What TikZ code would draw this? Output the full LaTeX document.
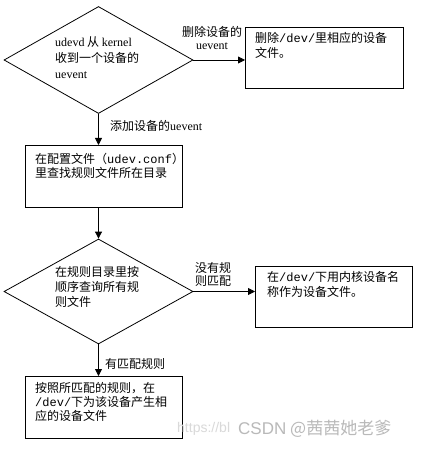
\documentclass[tikz,border=0pt]{standalone}
\usepackage{fontspec}
\setmainfont{Noto Sans CJK SC}
\newfontfamily\tms{Liberation Serif}
\setmonofont{Liberation Mono}
\newfontfamily\wmfont{Liberation Sans}
\usetikzlibrary{shapes.geometric,arrows.meta}
\begin{document}
\begin{tikzpicture}[x=1pt,y=-1pt,
  font=\fontsize{12pt}{15pt}\selectfont,
  box/.style={draw, line width=0.8pt, rectangle, anchor=north west, inner sep=0},
  dia/.style={draw, line width=0.8pt, diamond, inner sep=0},
  txt/.style={anchor=north west, inner sep=0, align=left},
  lbl/.style={inner sep=0, align=center},
  arr/.style={-{Triangle[length=7pt,width=7pt]}, line width=0.8pt}]
\useasboundingbox[fill=white] (0,0) rectangle (423,449);
% shapes
\node[dia, minimum width=189pt, minimum height=107pt] (d1) at (98.5,60) {};
\node[box, minimum width=158pt, minimum height=61pt] (b1) at (245,27) {};
\node[box, minimum width=157pt, minimum height=62pt] (b2) at (25,145) {};
\node[dia, minimum width=189pt, minimum height=105pt] (d2) at (98.5,291.5) {};
\node[box, minimum width=157pt, minimum height=61pt] (b3) at (255,266) {};
\node[box, minimum width=157pt, minimum height=62pt] (b4) at (25,376) {};
% connectors
\draw[arr] (d1.east) -- (d1.east -| b1.west);
\draw[arr] (d1.south) -- (d1.south |- b2.north);
\draw[arr] (b2.south -| d2.north) -- (d2.north);
\draw[arr] (d2.east) -- (d2.east -| b3.west);
\draw[arr] (d2.south) -- (d2.south |- b4.north);
% labels
\node[lbl, font=\fontsize{12pt}{12.5pt}\selectfont] (l1) at (212,38) {删除设备的\\{\tms uevent}};
\node[lbl, anchor=west] (l2) at (110,126) {添加设备的{\tms uevent}};
\node[lbl, align=left, font=\fontsize{12pt}{13pt}\selectfont] (l3) at (213,274.5) {没有规\\则匹配};
\node[lbl, anchor=west] (l4) at (105,364) {有匹配规则};
% texts
\node[txt, font=\fontsize{12pt}{16pt}\selectfont] (t1) at (55,36) {{\tms udevd} 从 {\tms kernel}\\收到一个设备的\\{\tms uevent}};
\node[txt] (t2) at (255,32) {删除\texttt{/dev/}里相应的设备\\文件。};
\begin{scope}
\clip (b2.north west) rectangle (b2.south east);
\node[txt, font=\fontsize{12pt}{14pt}\selectfont] (t3) at (35,153) {在配置文件（\texttt{udev.conf}）\\里查找规则文件所在目录};
\end{scope}
\node[txt] (t4) at (55,266) {在规则目录里按\\顺序查询所有规\\则文件};
\node[txt] (t5) at (267,271) {在\texttt{/dev/}下用内核设备名\\称作为设备文件。};
\node[txt, font=\fontsize{12pt}{14pt}\selectfont] (t6) at (35,382) {按照所匹配的规则，在\\\texttt{/dev/}下为该设备产生相\\应的设备文件};
% watermark
\node[anchor=west, inner sep=0, text=gray!30, font=\wmfont\fontsize{14pt}{14pt}\selectfont] (w1) at (177,429) {https://bl};
\node[anchor=west, inner sep=0, text=gray!55, font=\fontsize{17pt}{17pt}\selectfont] (w2) at (238,429) {{\wmfont CSDN} @茜茜她老爹};
\end{tikzpicture}
\end{document}
